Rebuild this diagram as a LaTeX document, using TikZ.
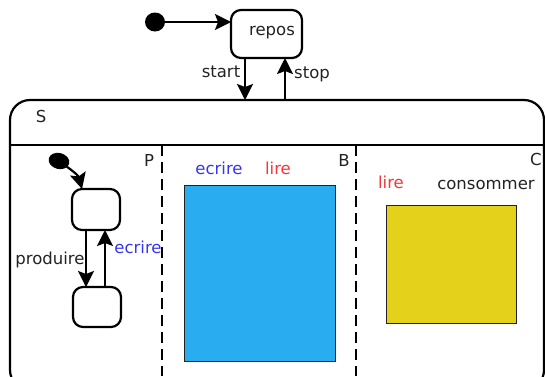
\documentclass[tikz,border=0pt]{standalone}
\usepackage{fontspec}
\setmainfont{DejaVu Sans}
\usetikzlibrary{arrows.meta,shapes.geometric}
\definecolor{bufblue}{HTML}{2AACF0}
\definecolor{consyellow}{HTML}{E4D11B}
\definecolor{evblue}{HTML}{3535F5}
\definecolor{evred}{HTML}{F53535}
\definecolor{ink}{HTML}{222222}
\begin{document}
\begin{tikzpicture}[x=1pt,y=-1pt,
  line width=2.2pt,
  txt/.style={font=\fontsize{16.5}{18}\selectfont, inner sep=0pt, text=ink},
  state/.style={draw, rectangle, rounded corners=10pt, line width=2.2pt, outer sep=0pt},
  initdot/.style={ellipse, fill=black, inner sep=0pt},
  arr/.style={-{Stealth[length=16pt,width=16pt,inset=3pt]}},
  region/.style={dash pattern=on 11pt off 6pt},
  block/.style={draw=ink, line width=1pt, rectangle, outer sep=0pt}
]
\useasboundingbox (0,0) rectangle (545,376);

% top level: initial state and repos
\node (i0) [initdot, minimum width=20pt, minimum height=19pt] at (155,22) {};
\node (repos) [state, minimum width=71pt, minimum height=48pt] at (266.5,34) {};
\node (reposlbl) [txt] at (272,33) {repos};
\draw[arr] (i0.center) -- (i0.center -| repos.west);

% composite state S
\node (S) [draw, rectangle, rounded corners=20pt, outer sep=0pt,
  minimum width=534pt, minimum height=290pt, anchor=north west] at (10,100) {};
\node (Slbl) [txt] at (41,116) {S};
\coordinate (hl) at (10,145);
\coordinate (hr) at (544,145);
\draw (hl) -- (hr);

% transitions between repos and S
\draw[arr] ([xshift=-21.5pt]repos.south) -- ([xshift=-21.5pt]repos.south |- S.north);
\draw[arr] ([xshift=18.5pt]repos.south |- S.north) -- ([xshift=18.5pt]repos.south);
\node (startlbl) [txt] at (221,72) {start};
\node (stoplbl) [txt] at (312,74) {stop};

% orthogonal regions
\coordinate (d1t) at (162,145);
\coordinate (d1b) at (162,376);
\coordinate (d2t) at (356,145);
\coordinate (d2b) at (356,376);
\draw[region] (d1t) -- (d1b);
\draw[region] (d2t) -- (d2b);
\node (Plbl) [txt] at (149,160) {P};
\node (Blbl) [txt] at (344,160) {B};
\node (Clbl) [txt] at (536,159) {C};

% region P: producer
\node (i1) [initdot, minimum width=21pt, minimum height=16pt, rotate=-15] at (59,161) {};
\node (u1) [state, minimum width=48pt, minimum height=41pt] at (96,209.5) {};
\node (u2) [state, minimum width=48pt, minimum height=40pt] at (97,307) {};
\draw[arr] (i1.center) to[out=-35,in=105] ([xshift=-14pt]u1.north);
\draw[arr] ([xshift=-10pt]u1.south) -- ([xshift=-10pt]u1.south |- u2.north);
\draw[arr] ([xshift=8pt]u2.north) -- ([xshift=8pt]u2.north |- u1.south);
\node (prodlbl) [txt] at (50,260) {produire};
\node (ecrP) [txt, text=evblue] at (138,247) {ecrire};

% region B: buffer
\node (buf) [block, fill=bufblue, minimum width=151pt, minimum height=176pt] at (259.5,273) {};
\node (ecrB) [txt, text=evblue] at (219,168) {ecrire};
\node (lireB) [txt, text=evred] at (278,168) {lire};

% region C: consumer
\node (cons) [block, fill=consyellow, minimum width=130pt, minimum height=118pt] at (451,264) {};
\node (lireC) [txt, text=evred] at (391,182) {lire};
\node (conslbl) [txt] at (486,185) {consommer};
\end{tikzpicture}
\end{document}
